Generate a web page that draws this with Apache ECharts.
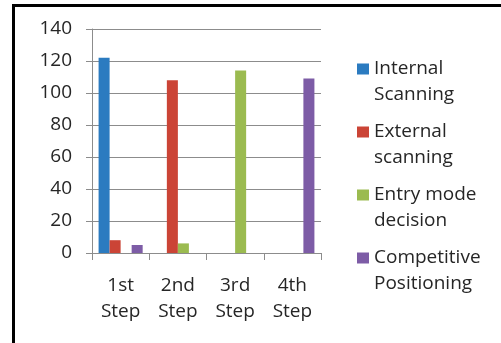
<!DOCTYPE html>
<html>
<head>
<meta charset="utf-8">
<script src="https://cdn.jsdelivr.net/npm/echarts@6/dist/echarts.min.js"></script>
<style>
  html, body { margin: 0; padding: 0; background: #fff; }
  #chart { width: 501px; height: 343px; }
</style>
</head>
<body>
<div id="chart"></div>
<script>
// categories (x axis)
var steps = ['1st Step', '2nd Step', '3rd Step', '4th Step'];
// series names + how the legend breaks them
var seriesNames = ['Internal Scanning', 'External scanning', 'Entry mode decision', 'Competitive Positioning'];
var legendLines = ['Internal\nScanning', 'External\nscanning', 'Entry mode\ndecision', 'Competitive\nPositioning'];
// values
var internalScanning = [122, 0, 0, 0];
var externalScanning = [8, 108, 0, 0];
var entryMode = [0, 6, 114, 0];
var competitivePos = [5, 0, 0, 109];
var yTicks = { min: 0, max: 140, interval: 20 };
var colors = ['#2B7BC0', '#CB4436', '#9BBB50', '#7D5CA6'];

var allValues = [internalScanning, externalScanning, entryMode, competitivePos];
var fontFam = '"Open Sans", sans-serif';
var txtColor = '#262626';

var chart = echarts.init(document.getElementById('chart'));

var series = [];
for (var i = 0; i < seriesNames.length; i++) {
    series.push({
        name: seriesNames[i],
        type: 'bar',
        data: allValues[i],
        barGap: '0%',
        barCategoryGap: '23%',
        itemStyle: { color: colors[i] }
    });
}

chart.setOption({
    animation: false,
    color: colors,
    // the black frame round the picture (top + left edges only visible)
    graphic: [{
        type: 'rect',
        shape: { x: 13.5, y: 5.5, width: 600, height: 400 },
        style: { fill: 'none', stroke: '#000', lineWidth: 3 },
        silent: true
    }],
    grid: { left: 92, right: 180, top: 29, bottom: 90 },
    legend: {
        orient: 'vertical',
        left: 357,
        top: 30,
        padding: 0,
        itemWidth: 12,
        itemHeight: 11,
        itemGap: -15,
        icon: 'rect',
        data: seriesNames,
        // blank first line so the square sits level with the first text line
        formatter: function (name) {
            return ' \n' + legendLines[seriesNames.indexOf(name)];
        },
        textStyle: {
            fontFamily: fontFam,
            fontSize: 19,
            lineHeight: 26,
            color: txtColor
        }
    },
    xAxis: {
        type: 'category',
        data: steps,
        axisLine: { lineStyle: { color: '#8c8c8c', width: 1 } },
        axisTick: { show: true, length: 7, lineStyle: { color: '#8c8c8c' } },
        axisLabel: {
            margin: 20,
            fontFamily: fontFam,
            fontSize: 19,
            lineHeight: 26,
            color: txtColor,
            formatter: function (v) { return v.replace(' ', '\n'); }
        }
    },
    yAxis: {
        type: 'value',
        min: yTicks.min,
        max: yTicks.max,
        interval: yTicks.interval,
        axisLine: { show: true, lineStyle: { color: '#8c8c8c' } },
        axisTick: { show: true, length: 6, lineStyle: { color: '#8c8c8c' } },
        splitLine: { lineStyle: { color: '#8c8c8c', width: 1 } },
        axisLabel: {
            margin: 20,
            fontFamily: fontFam,
            fontSize: 19,
            color: txtColor
        }
    },
    series: series
});
</script>
</body>
</html>
